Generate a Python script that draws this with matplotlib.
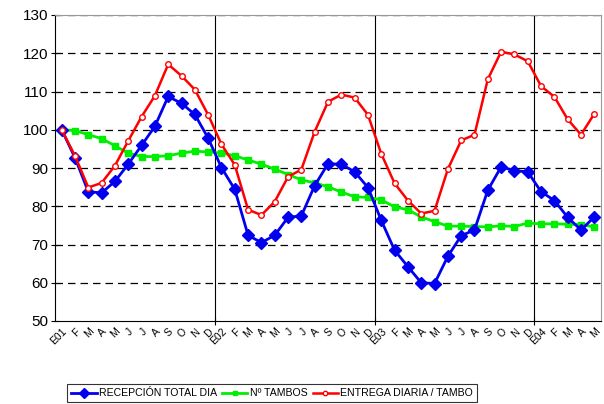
import matplotlib
matplotlib.use("Agg")
import matplotlib.pyplot as plt

plt.rcParams['font.family'] = ['Liberation Sans', 'DejaVu Sans']

months = ["E01", "F", "M", "A", "M", "J", "J", "A", "S", "O", "N", "D",
          "E02", "F", "M", "A", "M", "J", "J", "A", "S", "O", "N", "D",
          "E03", "F", "M", "A", "M", "J", "J", "A", "S", "O", "N", "D",
          "E04", "F", "M", "A", "M"]

recepcion = [100.0, 92.7, 83.8, 83.5, 86.5, 91.0, 95.9, 100.9, 108.7, 106.9, 104.0, 97.8,
             90.1, 84.4, 72.4, 70.5, 72.4, 77.1, 77.5, 85.4, 91.1, 91.0, 89.0, 84.9,
             76.3, 68.5, 64.2, 60.0, 59.8, 66.9, 72.3, 73.8, 84.2, 90.3, 89.3, 89.0,
             83.8, 81.5, 77.1, 73.8, 77.2]

tambos = [100.0, 99.8, 98.7, 97.7, 95.8, 93.9, 93.0, 93.0, 93.2, 93.9, 94.4, 94.2,
          93.9, 93.2, 92.1, 91.0, 89.7, 88.3, 86.9, 86.1, 85.1, 83.7, 82.5, 82.3,
          81.7, 79.8, 79.1, 77.2, 76.0, 74.8, 74.8, 74.7, 74.6, 74.9, 74.7, 75.6,
          75.4, 75.4, 75.3, 75.2, 74.6]

entrega = [100.0, 93.2, 84.9, 86.1, 90.6, 97.1, 103.4, 108.9, 117.1, 114.1, 110.5, 103.9,
           96.2, 90.8, 79.1, 77.7, 81.2, 87.7, 89.6, 99.5, 107.3, 109.2, 108.4, 103.9,
           93.7, 86.0, 81.5, 78.1, 78.8, 89.7, 97.2, 98.7, 113.2, 120.4, 119.7, 117.9,
           111.4, 108.6, 102.7, 98.7, 104.2]

x = list(range(len(months)))

fig = plt.figure(figsize=(6.04, 4.04), dpi=100)
ax = fig.add_axes([55 / 604, 1 - 321 / 404, 546 / 604, 306 / 404])

# year boundaries
for b in [11.5, 23.5, 35.5]:
    ax.axvline(b, color='black', lw=0.8, zorder=1)
for y in range(60, 131, 10):
    ax.axhline(y, color='black', lw=0.9, ls=(0, (6, 4)), zorder=1)

ax.plot(x, tambos, color='#00ee00', lw=2, marker='s', ms=4, mec='#00ee00',
        label="Nº TAMBOS", zorder=3)
ax.plot(x, recepcion, color='#0000ee', lw=2, marker='D', ms=6, mec='#0000ee',
        label="RECEPCIÓN TOTAL DIA", zorder=4)
ax.plot(x, entrega, color='#ff0000', lw=1.8, marker='o', ms=4, mfc='white',
        mec='#ff0000', mew=1, label="ENTREGA DIARIA / TAMBO", zorder=5)

ax.set_xlim(-0.5, 40.5)
ax.set_ylim(50, 130)
ax.set_yticks(range(50, 131, 10))
ax.tick_params(axis='y', labelsize=11, length=6, direction='inout', pad=2)

ax.set_xticks([11.5, 23.5, 35.5])
ax.set_xticklabels([])
ax.tick_params(axis='x', length=6, direction='inout')
ax.set_xticks(x, minor=True)
ax.set_xticklabels(months, minor=True, rotation=45, ha='right', va='top',
                   fontsize=7.5, rotation_mode='anchor')
ax.tick_params(axis='x', which='minor', length=0, pad=4)

for side in ['top', 'right']:
    ax.spines[side].set_color('#999999')
for side in ['left', 'bottom']:
    ax.spines[side].set_color('black')

handles, labels = ax.get_legend_handles_labels()
order = [1, 0, 2]
leg = fig.legend([handles[i] for i in order], [labels[i] for i in order],
                 loc='upper center', bbox_to_anchor=(272 / 604, 1 - 384 / 404), ncol=3,
                 fontsize=7.6, frameon=True, fancybox=False, edgecolor='black',
                 handlelength=2.4, handletextpad=0.2, columnspacing=0.5,
                 borderpad=0.4, borderaxespad=0.0, markerscale=0.8)
leg.get_frame().set_linewidth(0.8)

fig.savefig("out.png", dpi=100)
